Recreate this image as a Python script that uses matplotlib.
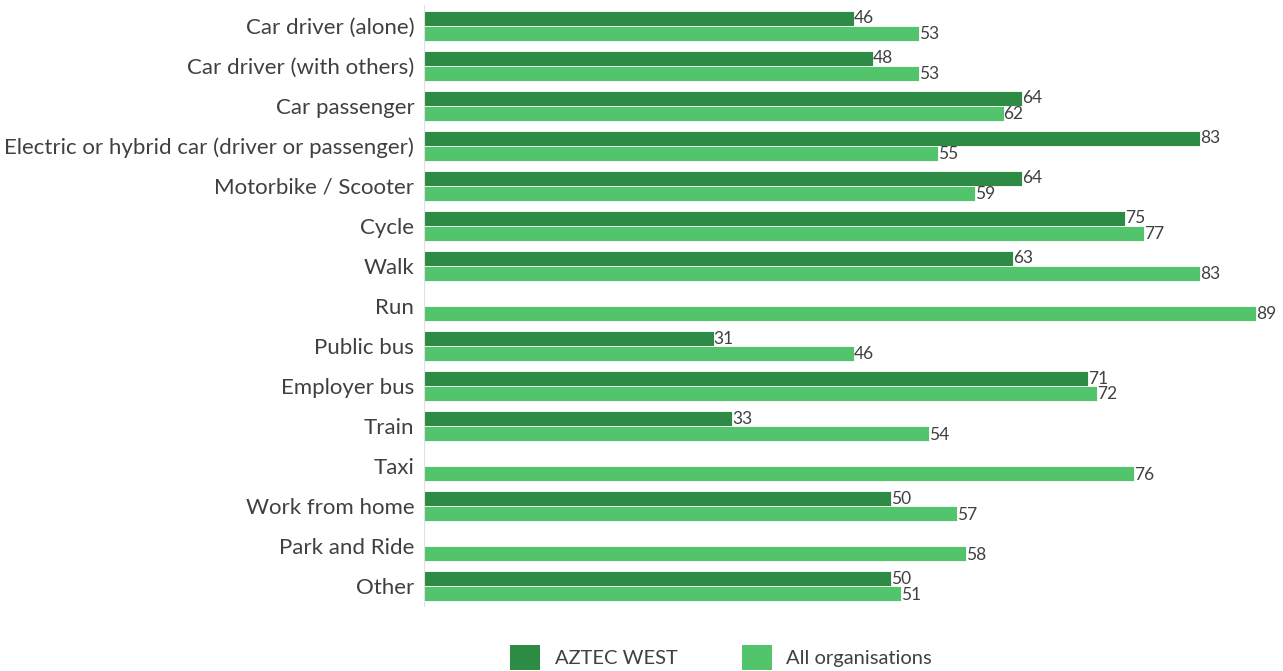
import matplotlib
matplotlib.use("Agg")
import matplotlib.pyplot as plt
from matplotlib.patches import Patch
import numpy as np

categories = ["Car driver (alone)", "Car driver (with others)", "Car passenger",
              "Electric or hybrid car (driver or passenger)", "Motorbike / Scooter",
              "Cycle", "Walk", "Run", "Public bus", "Employer bus", "Train", "Taxi",
              "Work from home", "Park and Ride", "Other"]
aztec_west = [46, 48, 64, 83, 64, 75, 63, None, 31, 71, 33, None, 50, None, 50]
all_orgs = [53, 53, 62, 55, 59, 77, 83, 89, 46, 72, 54, 76, 57, 58, 51]
series_names = ["AZTEC WEST", "All organisations"]

dark = "#2E8B46"
light = "#52C46C"
text_col = "#404040"
font = "Lato"

fig = plt.figure(figsize=(12.83, 6.71), dpi=100)
ax = fig.add_axes([424/1283, 1 - 606.5/671, 1 - 424/1283, (606.5-5.5)/671])

y = np.arange(len(categories))
h = 0.375
for i, (a, b) in enumerate(zip(aztec_west, all_orgs)):
    if a is not None:
        ax.barh(i - h/2, a, height=h, color=dark, edgecolor="white", linewidth=0.6)
        ax.text(a, i - h/2, f"{a}", va="center", ha="left", fontsize=12.5,
                color=text_col, family=font)
    ax.barh(i + h/2, b, height=h, color=light, edgecolor="white", linewidth=0.6)
    ax.text(b, i + h/2 + 0.02, f"{b}", va="center", ha="left", fontsize=12.5,
            color=text_col, family=font)

ax.set_xlim(0, 91.9)
ax.set_ylim(len(categories) - 0.5, -0.5)
ax.set_yticks(y)
ax.set_yticklabels(categories, fontsize=16, color=text_col, family=font)
ax.tick_params(axis="y", length=0, pad=7)
ax.set_xticks([])
for s in ["top", "right", "bottom"]:
    ax.spines[s].set_visible(False)
ax.spines["left"].set_color("#e0e0e0")
ax.spines["left"].set_linewidth(0.8)

handles = [Patch(facecolor=dark, label=series_names[0]),
           Patch(facecolor=light, label=series_names[1])]
fig.legend(handles=handles, loc="lower center", bbox_to_anchor=(0.562, -0.025),
           ncol=2, frameon=False, prop={"family": font, "size": 14.5},
           handlelength=1.5, handleheight=1.5, columnspacing=3.2, handletextpad=0.7,
           labelcolor=text_col)

fig.savefig("out.png", dpi=100)
